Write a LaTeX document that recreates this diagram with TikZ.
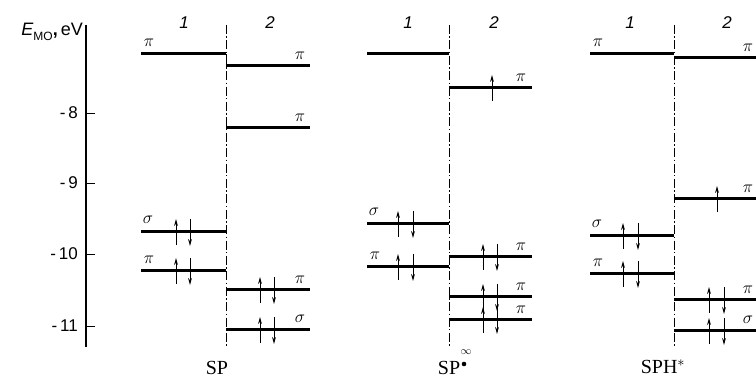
\documentclass[tikz,border=0pt]{standalone}
\usepackage{fontspec}
\setmainfont{Liberation Serif}
\setsansfont{Liberation Sans}
\usetikzlibrary{arrows.meta}
\tikzset{
  level/.style={line width=3pt},
  elec/.style={line width=0.9pt,-{Stealth[length=7pt,width=3.8pt]}},
  divider/.style={line width=0.7pt,dash pattern=on 9pt off 2.5pt on 1.4pt off 2.5pt},
  axisline/.style={line width=1.4pt},
  orb/.style={font=\fontsize{19}{19}\selectfont,inner sep=0pt},
  collab/.style={font=\sffamily\itshape\fontsize{17}{17}\selectfont,inner sep=0pt},
  ticklab/.style={font=\sffamily\fontsize{17}{17}\selectfont,anchor=east,inner sep=0pt},
  molname/.style={font=\fontsize{20}{20}\selectfont,inner sep=0pt,anchor=base}
}
\newcommand\elpair[3]{% x1, x2, y
  \draw[elec] (#1,{#3+13}) -- (#1,{#3-13});
  \draw[elec] (#2,{#3-13}) -- (#2,{#3+14});}
\newcommand\elup[2]{\draw[elec] (#1,{#2+13}) -- (#1,{#2-13});}
\begin{document}
\begin{tikzpicture}[x=1pt,y=-1pt]
\useasboundingbox (0,0) rectangle (756,379);
% axis
\coordinate (axtop) at (86,25);
\coordinate (axbot) at (86,347);
\draw[axisline] (axtop) -- (axbot);
\node[font=\sffamily\fontsize{18}{18}\selectfont,anchor=east,inner sep=0pt] (ylab) at (83,32)
  {\textit{E}\raisebox{-0.45ex}{\fontsize{12}{12}\selectfont MO}\textbf{,}\,eV};
\foreach \v/\yy in {-8/113,-9/183,-10/254,-11/326}{
  \draw[line width=0.9pt] (86,\yy) -- (95,\yy);
  \node[ticklab] at (78,\yy) {-\,\pgfmathparse{int(-\v)}\pgfmathresult};
}
% ---------------- panel 1 : SP ----------------
\draw[divider] (226,25) -- (226,348);
\node[collab] (c11) at (184,23) {1};
\node[collab] (c12) at (270,23) {2};
\draw[level] (141,54) -- (226,54);
\node[orb] at (149,43) {$\pi$};
\draw[level] (141,232) -- (226,232);
\node[orb] at (148,220) {$\sigma$};
\elpair{176}{190}{232}
\draw[level] (141,271) -- (226,271);
\node[orb] at (149,260) {$\pi$};
\elpair{176}{190}{271}
\draw[line width=0.9pt] (226,54) -- (226,66);
\draw[level] (226,66) -- (310,66);
\node[orb] at (300,56) {$\pi$};
\draw[level] (226,128) -- (310,128);
\node[orb] at (300,118) {$\pi$};
\draw[level] (226,290) -- (310,290);
\node[orb] at (300,280) {$\pi$};
\elpair{260}{274}{290}
\draw[level] (226,330) -- (310,330);
\node[orb] at (300,319) {$\sigma$};
\elpair{260}{274}{330}
\node[molname] (m1) at (217,375) {SP};
% ---------------- panel 2 : SP ----------------
\draw[divider] (449,25) -- (449,348);
\node[collab] (c21) at (408,23) {1};
\node[collab] (c22) at (494,23) {2};
\draw[level] (367,54) -- (449,54);
\draw[level] (367,224) -- (449,224);
\node[orb] at (374,212) {$\sigma$};
\elpair{398}{413}{224}
\draw[level] (367,267) -- (449,267);
\node[orb] at (375,256) {$\pi$};
\elpair{398}{413}{267}
\draw[level] (449,88) -- (532,88);
\node[orb] at (521,78) {$\pi$};
\elup{492}{88}
\draw[level] (449,257) -- (532,257);
\node[orb] at (521,247) {$\pi$};
\elpair{483}{497}{257}
\draw[level] (449,297) -- (532,297);
\node[orb] at (521,287) {$\pi$};
\elpair{483}{497}{297}
\draw[level] (449,320) -- (532,320);
\node[orb] at (521,310) {$\pi$};
\elpair{483}{497}{320}
\node[molname] (m2) at (449,375) {SP};
\coordinate (rdot) at (464,364);
\fill (rdot) circle (2.3pt);
\node[font=\fontsize{11}{11}\selectfont,inner sep=0pt] (inf) at (466,352) {$\infty$};
% ---------------- panel 3 : SPH* ----------------
\draw[divider] (674,25) -- (674,348);
\node[collab] (c31) at (630,23) {1};
\node[collab] (c32) at (727,23) {2};
\draw[level] (590,54) -- (674,54);
\node[orb] at (598,43) {$\pi$};
\draw[level] (590,236) -- (674,236);
\node[orb] at (597,224) {$\sigma$};
\elpair{623}{638}{236}
\draw[level] (590,274) -- (674,274);
\node[orb] at (598,263) {$\pi$};
\elpair{623}{638}{274}
\draw[level] (674,58) -- (756,58);
\node[orb] at (748,48) {$\pi$};
\draw[level] (674,199) -- (756,199);
\node[orb] at (748,189) {$\pi$};
\elup{717}{199}
\draw[level] (674,300) -- (756,300);
\node[orb] at (748,290) {$\pi$};
\elpair{709}{724}{300}
\draw[level] (674,331) -- (756,331);
\node[orb] at (748,320) {$\sigma$};
\elpair{709}{724}{331}
\node[molname] (m3) at (663,374) {SPH$^{*}$};
\end{tikzpicture}
\end{document}
